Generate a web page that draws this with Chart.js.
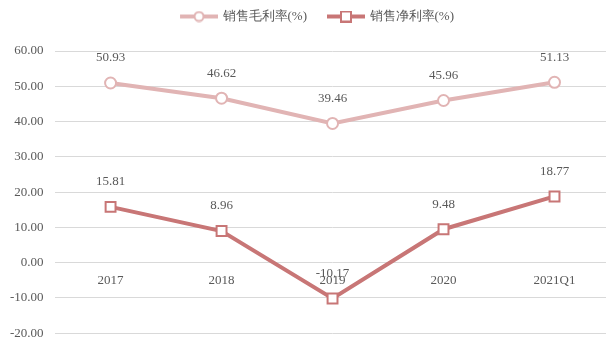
<!DOCTYPE html>
<html>
<head>
<meta charset="utf-8">
<script src="https://cdn.jsdelivr.net/npm/chart.js@4.4.0/dist/chart.umd.min.js"></script>
<style>
  html, body { margin: 0; padding: 0; background: #fff; overflow: hidden; }
  #wrap { width: 619px; height: 346px; }
</style>
</head>
<body>
<div id="wrap"><canvas id="grafico"></canvas></div>
<script>
const categorias = ["2017", "2018", "2019", "2020", "2021Q1"];
const margemBruta = [50.93, 46.62, 39.46, 45.96, 51.13];
const margemLiquida = [15.81, 8.96, -10.17, 9.48, 18.77];
const nomes = ["销售毛利率(%)", "销售净利率(%)"];

const corClara = "#e1b4b4";
const corEscura = "#c87676";
const fonteSerif = "'Liberation Serif', 'Times New Roman', serif";

// icone da legenda: linha com marcador (com margem transparente a esquerda)
function iconeLegenda(cor, forma) {
  const c = document.createElement("canvas");
  c.width = 50; c.height = 12;
  const g = c.getContext("2d");
  g.strokeStyle = cor; g.lineWidth = 4;
  g.beginPath(); g.moveTo(12, 6); g.lineTo(50, 6); g.stroke();
  g.fillStyle = "#fff"; g.lineWidth = 2;
  if (forma === "circle") {
    g.beginPath(); g.arc(31, 6, 4.5, 0, Math.PI * 2); g.fill(); g.stroke();
  } else {
    g.fillRect(26, 1, 10, 10); g.strokeRect(26, 1, 10, 10);
  }
  return c;
}
const icones = [iconeLegenda(corClara, "circle"), iconeLegenda(corEscura, "rect")];

const rotulos = {
  id: "rotulos",
  afterDatasetsDraw(chart) {
    const ctx = chart.ctx;
    ctx.save();
    ctx.font = "13px " + fonteSerif;
    ctx.fillStyle = "#595959";
    ctx.textAlign = "center";
    ctx.textBaseline = "middle";
    chart.data.datasets.forEach((ds, i) => {
      chart.getDatasetMeta(i).data.forEach((p, j) => {
        ctx.fillText(ds.data[j].toFixed(2), p.x, p.y - 25);
      });
    });
    ctx.restore();
  }
};

// espaco extra abaixo da legenda
const espacoLegenda = {
  id: "espacoLegenda",
  beforeInit(chart) {
    const fitOrig = chart.legend.fit;
    chart.legend.fit = function () {
      fitOrig.bind(chart.legend)();
      this.height += 18;
    };
  }
};

new Chart(document.getElementById("grafico"), {
  type: "line",
  data: {
    labels: categorias,
    datasets: [
      {
        label: nomes[0],
        data: margemBruta,
        borderColor: corClara,
        borderWidth: 4,
        pointStyle: "circle",
        pointRadius: 5.5,
        pointBorderWidth: 2,
        pointBackgroundColor: "#fff",
        pointBorderColor: corClara
      },
      {
        label: nomes[1],
        data: margemLiquida,
        borderColor: corEscura,
        borderWidth: 4,
        pointStyle: "rect",
        pointRadius: 7,
        pointBorderWidth: 2,
        pointBackgroundColor: "#fff",
        pointBorderColor: corEscura
      }
    ]
  },
  options: {
    responsive: true,
    maintainAspectRatio: false,
    animation: false,
    layout: { padding: { left: 5, right: 0, top: 0, bottom: 0 } },
    plugins: {
      tooltip: { enabled: false },
      legend: {
        position: "top",
        labels: {
          usePointStyle: true,
          pointStyleWidth: 46,
          boxWidth: 46,
          boxHeight: 12,
          padding: 10,
          color: "#595959",
          font: { size: 13, family: fonteSerif },
          generateLabels(chart) {
            return chart.data.datasets.map((ds, i) => ({
              text: ds.label,
              pointStyle: icones[i],
              fillStyle: "#fff",
              strokeStyle: ds.borderColor,
              lineWidth: 0,
              fontColor: "#595959",
              datasetIndex: i
            }));
          }
        }
      }
    },
    scales: {
      x: {
        position: { y: 0 },
        offset: true,
        grid: { display: false, drawTicks: false },
        border: { display: false },
        ticks: { color: "#595959", padding: 10, font: { size: 13, family: fonteSerif } }
      },
      y: {
        min: -20,
        max: 60,
        grid: { color: "#d9d9d9", lineWidth: 1, drawTicks: false },
        border: { display: false },
        ticks: {
          stepSize: 10,
          padding: 5,
          color: "#595959",
          font: { size: 13, family: fonteSerif },
          // espacos no fim afastam o texto da grade
          callback: v => v.toFixed(2) + "  "
        }
      }
    }
  },
  plugins: [rotulos, espacoLegenda]
});
</script>
</body>
</html>
